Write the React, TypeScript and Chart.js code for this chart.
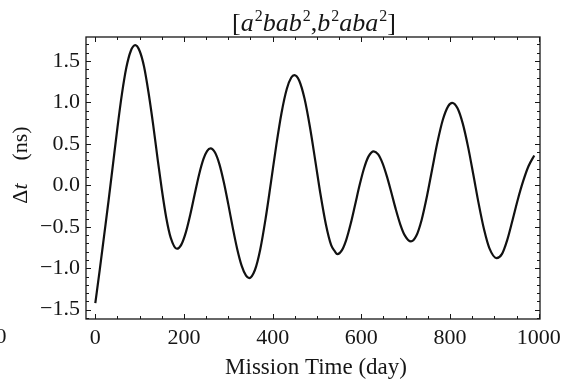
import React, { useEffect, useRef } from 'react';
import { Chart, registerables } from 'chart.js';

Chart.register(...registerables);

// ---- data ----
const missionDays = [
  0, 10, 20, 30, 40, 50, 60, 70, 80, 90, 100, 110, 120, 130, 140, 150, 160, 170, 184,
  194, 204, 214, 224, 234, 244, 252, 260, 270, 280, 290, 300, 310, 320, 330, 340, 347,
  360, 372, 384, 396, 408, 420, 432, 442, 449, 460, 472, 484, 496, 508, 520, 532, 540, 546,
  556, 566, 576, 586, 596, 606, 616, 628, 638, 648, 658, 668, 678, 688, 698, 712,
  724, 736, 748, 760, 772, 784, 796, 805, 817, 829, 841, 853, 865, 877, 889, 905,
  917, 929, 941, 953, 965, 977, 990,
];
const deltaT = [
  -1.42, -1.02, -0.6, -0.18, 0.26, 0.7, 1.1, 1.42, 1.62, 1.69, 1.62, 1.43, 1.12, 0.75, 0.34, -0.05, -0.39, -0.63, -0.765,
  -0.715, -0.57, -0.357, -0.11, 0.129, 0.318, 0.413, 0.446, 0.396, 0.253, 0.034, -0.23, -0.51, -0.767, -0.968, -1.09, -1.118,
  -1.021, -0.773, -0.405, 0.03, 0.476, 0.873, 1.165, 1.3, 1.329, 1.261, 1.043, 0.706, 0.302, -0.111, -0.469, -0.722, -0.794, -0.83,
  -0.785, -0.657, -0.464, -0.234, 0.0, 0.203, 0.346, 0.41, 0.373, 0.265, 0.102, -0.093, -0.294, -0.473, -0.604, -0.677,
  -0.609, -0.417, -0.132, 0.201, 0.528, 0.794, 0.956, 0.995, 0.929, 0.741, 0.458, 0.118, -0.23, -0.537, -0.761, -0.877,
  -0.83, -0.66, -0.42, -0.17, 0.05, 0.23, 0.36,
];
const xTickValues = [0, 200, 400, 600, 800, 1000];
const yTickValues = [-1.5, -1.0, -0.5, 0.0, 0.5, 1.0, 1.5];
const xMinorStep = 50;
const yMinorStep = 0.1;
const xRange = [-21, 1003];
const yRange = [-1.612, 1.789];

// title pieces: [text, style]  n = upright, i = italic, s = superscript
const titleParts: [string, string][] = [
  ['[', 'n'], ['a', 'i'], ['2', 's'], ['bab', 'i'], ['2', 's'], [',', 'n'],
  ['b', 'i'], ['2', 's'], ['aba', 'i'], ['2', 's'], [']', 'n'],
];
const yTitleParts: [string, string][] = [['Δ', 'n'], ['t', 'i'], ['    (ns)', 'n']];
const xAxisTitle = 'Mission Time (day)';
const strayLabel = '0';

const SERIF = '"Liberation Serif", "DejaVu Serif", serif';
const INK = '#161616';

function fontFor(style: string, size: number) {
  if (style === 'i') return `italic ${size}px ${SERIF}`;
  if (style === 's') return `${Math.round(size * 0.62)}px ${SERIF}`;
  return `${size}px ${SERIF}`;
}

function drawParts(ctx: CanvasRenderingContext2D, parts: [string, string][], cx: number, baseY: number, size: number) {
  let total = 0;
  const widths = parts.map(([t, s]) => {
    ctx.font = fontFor(s, size);
    const w = ctx.measureText(t).width + (s === 'i' ? size * 0.04 : 0);
    total += w;
    return w;
  });
  let x = cx - total / 2;
  parts.forEach(([t, s], i) => {
    ctx.font = fontFor(s, size);
    ctx.fillText(t, x, s === 's' ? baseY - size * 0.38 : baseY);
    x += widths[i];
  });
}

const framePlugin = {
  id: 'mmaFrame',
  afterDraw(chart: any) {
    const { ctx, chartArea: a, scales } = chart;
    const xs = scales.x;
    const ys = scales.y;
    ctx.save();
    ctx.strokeStyle = INK;
    ctx.lineWidth = 1.3;
    ctx.strokeRect(a.left, a.top, a.right - a.left, a.bottom - a.top);

    ctx.lineWidth = 1;
    const major = 5;
    const minor = 3;
    // x ticks (bottom + top)
    for (let v = 0; v <= 1000 + 1e-9; v += xMinorStep) {
      const px = Math.round(xs.getPixelForValue(v)) + 0.5;
      const len = v % 200 === 0 ? major : minor;
      ctx.beginPath();
      ctx.moveTo(px, a.bottom);
      ctx.lineTo(px, a.bottom - len);
      ctx.moveTo(px, a.top);
      ctx.lineTo(px, a.top + len);
      ctx.stroke();
    }
    // y ticks (left + right)
    for (let k = -16; k <= 17; k++) {
      const v = k * yMinorStep;
      const py = Math.round(ys.getPixelForValue(v)) + 0.5;
      const len = k % 5 === 0 ? major : minor;
      ctx.beginPath();
      ctx.moveTo(a.left, py);
      ctx.lineTo(a.left + len, py);
      ctx.moveTo(a.right, py);
      ctx.lineTo(a.right - len, py);
      ctx.stroke();
    }

    ctx.fillStyle = INK;
    ctx.textBaseline = 'alphabetic';
    ctx.textAlign = 'left';
    // title
    drawParts(ctx, titleParts, (a.left + a.right) / 2 + 1, 31, 26);
    // x axis title
    ctx.font = `23px ${SERIF}`;
    ctx.textAlign = 'center';
    ctx.fillText(xAxisTitle, (a.left + a.right) / 2 + 3, 374);
    // stray clipped label at far left
    ctx.font = `22px ${SERIF}`;
    ctx.fillText(strayLabel, 1, 343);
    // y axis title
    ctx.save();
    ctx.translate(27, 165);
    ctx.rotate(-Math.PI / 2);
    ctx.textAlign = 'left';
    drawParts(ctx, yTitleParts, 0, 0, 22);
    ctx.restore();
    ctx.restore();
  },
};

function fmtY(v: number) {
  const s = Math.abs(v).toFixed(1);
  return v < -1e-9 ? '\u2212' + s : s;
}

export default function App() {
  const ref = useRef<HTMLCanvasElement | null>(null);
  useEffect(() => {
    document.body.style.margin = '0';
    const canvas = ref.current;
    if (!canvas) return;
    const chart = new Chart(canvas, {
      type: 'line',
      data: {
        datasets: [
          {
            data: missionDays.map((d, i) => ({ x: d, y: deltaT[i] })),
            borderColor: '#111111',
            borderWidth: 2.2,
            pointRadius: 0,
            fill: false,
            cubicInterpolationMode: 'monotone',
          },
        ],
      },
      options: {
        responsive: false,
        animation: false,
        events: [],
        layout: { padding: { top: 37, right: 28, left: 0, bottom: 0 } },
        plugins: { legend: { display: false }, tooltip: { enabled: false }, title: { display: false } },
        scales: {
          x: {
            type: 'linear',
            min: xRange[0],
            max: xRange[1],
            afterBuildTicks: (s: any) => {
              s.ticks = xTickValues.map((v) => ({ value: v }));
            },
            afterFit: (s: any) => {
              s.height = 68;
            },
            grid: { display: false, drawTicks: false },
            border: { display: false },
            ticks: {
              autoSkip: false,
              maxRotation: 0,
              padding: 6,
              color: INK,
              font: { family: SERIF, size: 22 },
              callback: (v: any) => String(v),
            },
          },
          y: {
            type: 'linear',
            min: yRange[0],
            max: yRange[1],
            afterBuildTicks: (s: any) => {
              s.ticks = yTickValues.map((v) => ({ value: v }));
            },
            afterFit: (s: any) => {
              s.width = 86;
            },
            grid: { display: false, drawTicks: false },
            border: { display: false },
            ticks: {
              autoSkip: false,
              padding: 6,
              color: INK,
              font: { family: SERIF, size: 22 },
              callback: (v: any) => fmtY(Number(v)),
            },
          },
        },
      },
      plugins: [framePlugin],
    } as any);
    return () => chart.destroy();
  }, []);
  return (
    <div style={{ position: 'fixed', left: 0, top: 0, width: 568, height: 387, background: '#fff' }}>
      <canvas ref={ref} width={568} height={387} style={{ width: 568, height: 387 }} />
    </div>
  );
}
